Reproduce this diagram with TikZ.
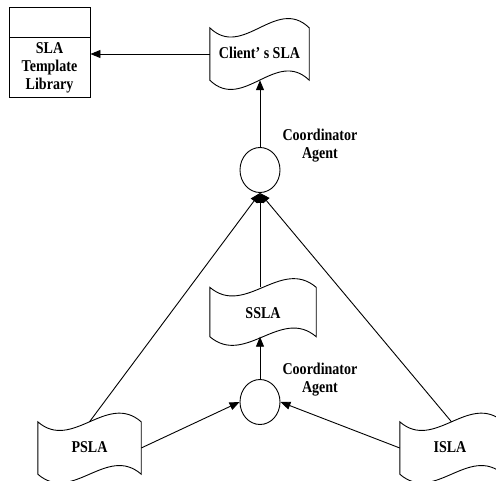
\documentclass[tikz,border=0pt]{standalone}
\usepackage{fontspec}
\setmainfont{Liberation Serif}[FakeStretch=0.85]
\usetikzlibrary{shapes.geometric,arrows.meta}
\newcommand\docpath[3]{%
  \draw[ln] (#1.north west) .. controls ([shift={(#2/3,#3)}]#1.north west) and ([shift={(-#2/3,-#3)}]#1.north east) .. (#1.north east)
    -- (#1.south east) .. controls ([shift={(-#2/3,-#3)}]#1.south east) and ([shift={(#2/3,#3)}]#1.south west) .. (#1.south west) -- cycle;}
\begin{document}
\begin{tikzpicture}[x=1pt,y=-1pt,
  every node/.style={font=\bfseries\fontsize{16.5}{18}\selectfont},
  doc/.style={rectangle, inner sep=0pt},
  agent/.style={ellipse, draw, line width=0.9pt, minimum width=40pt, minimum height=45pt, inner sep=0pt},
  arr/.style={line width=0.9pt, -{Triangle[length=10pt,width=8pt]}},
  ln/.style={line width=0.9pt},
  lbl/.style={align=center, inner sep=0pt}]
\useasboundingbox (0,0) rectangle (496,480);
\begin{scope}
\clip (0,0) rectangle (496,480);
% library
\node[draw, line width=0.9pt, minimum width=81pt, minimum height=90pt, inner sep=0pt] (lib) at (49.5,52) {};
\coordinate (libdivl) at (9,37);
\coordinate (libdivr) at (90,37);
\draw[ln] (libdivl) -- (libdivr);
\node[lbl, align=center] (libtxt) at (49.5,68) {SLA\\Template\\Library};
% documents
\node[doc, minimum width=99pt, minimum height=52pt] (client) at (259.5,54) {};
\node[lbl] (clienttxt) at (259.5,53) {Client’ s SLA};
\docpath{client}{99}{32}
\node[doc, minimum width=106pt, minimum height=49pt] (ssla) at (263,312) {};
\node[lbl] (sslatxt) at (263,313) {SSLA};
\docpath{ssla}{106}{30}
\node[doc, minimum width=103pt, minimum height=52pt] (psla) at (89.5,448) {};
\node[lbl] (pslatxt) at (89.5,447) {PSLA};
\docpath{psla}{103}{30}
\node[doc, minimum width=103pt, minimum height=52pt] (isla) at (451.5,448) {};
\node[lbl] (islatxt) at (450,447) {ISLA};
\docpath{isla}{103}{30}
% agents
\node[agent] (c1) at (260,170) {};
\node[agent] (c2) at (260,402) {};
\node[lbl] (l1) at (320,146) {Coordinator\\Agent};
\node[lbl] (l2) at (320,380) {Coordinator\\Agent};
% connectors
\draw[arr] (client.west) -- (lib.east |- client.west);
\draw[arr] (c1.north) -- (c1.north |- client.south);
\draw[arr] (c1.south |- ssla.north) -- (c1.south);
\draw[arr] (c2.north) -- (c2.north |- ssla.south);
\draw[arr] (psla.east) -- (c2.west);
\draw[arr] (isla.west) -- (c2.east);
\draw[arr] (psla.north) -- (c1.south);
\draw[arr] (isla.north) -- (c1.south);
\end{scope}
\end{tikzpicture}
\end{document}
